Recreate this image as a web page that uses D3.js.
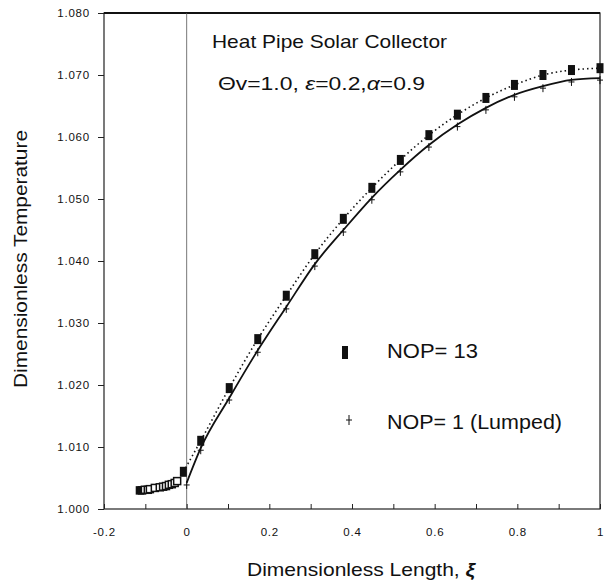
<!DOCTYPE html>
<html lang="en">
    <head>
        <meta charset="utf-8">
        <title>Heat Pipe Solar Collector</title>
        <script type="text/javascript" src="https://cdn.jsdelivr.net/npm/d3@7"></script>
        <style type="text/css">
            body { margin: 0; background: #fff; }
            text { font-family: Arial, "Liberation Sans", sans-serif; fill: #111; }
        </style>
    </head>
    <body>
        <script type="text/javascript">
            var w = 607;
            var h = 584;

            // Data
            var xiNodes  = [-0.008, 0.034, 0.103, 0.172, 0.241, 0.310, 0.379, 0.448, 0.517, 0.586, 0.655, 0.724, 0.793, 0.862, 0.931, 1.0];
            var nop13    = [1.0060, 1.0110, 1.0195, 1.0274, 1.0344, 1.0411, 1.0468, 1.0518, 1.0563, 1.0603, 1.0636, 1.0663, 1.0684, 1.0700, 1.0708, 1.0711];
            var xiLumped = [0, 0.034, 0.103, 0.172, 0.241, 0.310, 0.379, 0.448, 0.517, 0.586, 0.655, 0.724, 0.793, 0.862, 0.931, 1.0];
            var lumped   = [1.0042, 1.0098, 1.0179, 1.0256, 1.0326, 1.0395, 1.0450, 1.0502, 1.0547, 1.0587, 1.0620, 1.0647, 1.0668, 1.0682, 1.0692, 1.0695];
            // evaporator section (open squares)
            var xiEvap   = [-0.113, -0.108, -0.101, -0.094, -0.089, -0.077, -0.065, -0.057, -0.050, -0.043, -0.036, -0.029, -0.023];
            var evapT    = [1.0030, 1.0030, 1.0031, 1.0031, 1.0032, 1.0034, 1.0035, 1.0036, 1.0037, 1.0039, 1.0040, 1.0042, 1.0045];

            var xTicks = [-0.2, -0.1, 0, 0.1, 0.2, 0.3, 0.4, 0.5, 0.6, 0.7, 0.8, 0.9, 1];
            var xLabels = ["-0.2", "0", "0.2", "0.4", "0.6", "0.8", "1"];
            var yTicks = [1.000, 1.010, 1.020, 1.030, 1.040, 1.050, 1.060, 1.070, 1.080];

            var pLeft = 104, pRight = 600, pTop = 13, pBottom = 509;

            var xScale = d3.scaleLinear().domain([-0.2, 1]).range([pLeft, pRight]);
            var yScale = d3.scaleLinear().domain([1.0, 1.08]).range([pBottom, pTop]);

            var svg = d3.select("body")
                .append("svg")
                .attr("width", w)
                .attr("height", h);

            // frame
            svg.append("rect")
                .attr("x", pLeft).attr("y", pTop)
                .attr("width", pRight - pLeft).attr("height", pBottom - pTop)
                .attr("fill", "none").attr("stroke", "#222").attr("stroke-width", 1.2);
            svg.append("line")
                .attr("x1", pLeft).attr("x2", pRight).attr("y1", pTop).attr("y2", pTop)
                .attr("stroke", "#111").attr("stroke-width", 1.8);

            // vertical line at xi = 0
            svg.append("line")
                .attr("x1", xScale(0)).attr("x2", xScale(0))
                .attr("y1", pTop).attr("y2", pBottom)
                .attr("stroke", "#555").attr("stroke-width", 0.8);

            // y axis
            var yAxis = d3.axisLeft(yScale)
                .tickValues(yTicks)
                .tickSize(6)
                .tickPadding(8)
                .tickFormat(d3.format(".3f"));
            var gy = svg.append("g")
                .attr("transform", "translate(" + pLeft + ",0)")
                .call(yAxis);
            gy.select(".domain").remove();
            gy.selectAll("line").attr("stroke", "#222");
            gy.selectAll("text")
                .attr("font-size", "11.5px")
                .attr("letter-spacing", "0.8px")
                .attr("font-family", "Arial, 'Liberation Sans', sans-serif")
                .attr("fill", "#111");

            // x axis: inward ticks every 0.1
            var xAxis = d3.axisBottom(xScale)
                .tickValues(xTicks)
                .tickSize(-5)
                .tickPadding(19)
                .tickFormat(function(d) {
                    var s = String(Math.round(d * 10) / 10);
                    return xLabels.indexOf(s) >= 0 ? s : "";
                });
            var gx = svg.append("g")
                .attr("transform", "translate(0," + pBottom + ")")
                .call(xAxis);
            gx.select(".domain").remove();
            gx.selectAll("line").attr("stroke", "#222");
            gx.selectAll("text")
                .attr("font-size", "11.5px")
                .attr("letter-spacing", "0.8px")
                .attr("font-family", "Arial, 'Liberation Sans', sans-serif")
                .attr("fill", "#111");

            // curves
            var pts13 = xiNodes.map(function(d, i) { return [d, nop13[i]]; });
            var ptsL = xiLumped.map(function(d, i) { return [d, lumped[i]]; });
            var ptsE = xiEvap.map(function(d, i) { return [d, evapT[i]]; });

            var line = d3.line()
                .x(function(d) { return xScale(d[0]); })
                .y(function(d) { return yScale(d[1]); })
                .curve(d3.curveMonotoneX);

            svg.append("path")
                .attr("d", line(pts13))
                .attr("fill", "none")
                .attr("stroke", "#111")
                .attr("stroke-width", 1.6)
                .attr("stroke-dasharray", "1.5,3");

            svg.append("path")
                .attr("d", line(ptsL))
                .attr("fill", "none")
                .attr("stroke", "#111")
                .attr("stroke-width", 1.8);

            // open squares in evaporator (leftmost ones overlap into a dark blob)
            svg.selectAll("rect.evap")
                .data(ptsE)
                .enter()
                .append("rect")
                .attr("class", "evap")
                .attr("x", function(d) { return xScale(d[0]) - 3.5; })
                .attr("y", function(d) { return yScale(d[1]) - 3.5; })
                .attr("width", 7).attr("height", 7)
                .attr("fill", function(d, i) { return i < 2 ? "#111" : "#fff"; })
                .attr("stroke", "#111")
                .attr("stroke-width", 1.5);

            // NOP=13 filled squares
            svg.selectAll("rect.n13")
                .data(pts13)
                .enter()
                .append("rect")
                .attr("class", "n13")
                .attr("x", function(d) { return xScale(d[0]) - 3.5; })
                .attr("y", function(d) { return yScale(d[1]) - 5; })
                .attr("width", 7).attr("height", 10)
                .attr("fill", "#111");

            // lumped plus marks
            var plus = svg.selectAll("g.plus")
                .data(ptsL)
                .enter()
                .append("g")
                .attr("class", "plus")
                .attr("transform", function(d) {
                    return "translate(" + xScale(d[0]) + "," + (yScale(d[1]) + 2) + ")";
                });
            plus.append("line").attr("x1", -3).attr("x2", 3).attr("y1", 0).attr("y2", 0)
                .attr("stroke", "#111").attr("stroke-width", 1);
            plus.append("line").attr("x1", 0).attr("x2", 0).attr("y1", -4).attr("y2", 4)
                .attr("stroke", "#111").attr("stroke-width", 1);

            // legend
            svg.append("rect")
                .attr("x", 342).attr("y", 346).attr("width", 6).attr("height", 13)
                .attr("fill", "#111");
            svg.append("text")
                .attr("x", 387).attr("y", 358)
                .attr("font-size", "20px")
                .attr("textLength", 91).attr("lengthAdjust", "spacingAndGlyphs")
                .text("NOP= 13");
            var lp = svg.append("g").attr("transform", "translate(349,420)");
            lp.append("line").attr("x1", -3).attr("x2", 3).attr("y1", 0).attr("y2", 0)
                .attr("stroke", "#111").attr("stroke-width", 1);
            lp.append("line").attr("x1", 0).attr("x2", 0).attr("y1", -5).attr("y2", 5)
                .attr("stroke", "#111").attr("stroke-width", 1);
            svg.append("text")
                .attr("x", 387).attr("y", 429)
                .attr("font-size", "20px")
                .attr("textLength", 175).attr("lengthAdjust", "spacingAndGlyphs")
                .text("NOP= 1 (Lumped)");

            // annotations
            svg.append("text")
                .attr("x", 212).attr("y", 48)
                .attr("font-size", "19px")
                .attr("textLength", 235).attr("lengthAdjust", "spacingAndGlyphs")
                .text("Heat Pipe Solar Collector");
            svg.append("text")
                .attr("x", 218).attr("y", 90)
                .attr("font-size", "19px")
                .attr("textLength", 207).attr("lengthAdjust", "spacingAndGlyphs")
                .html("\u0398v=1.0, <tspan font-style='italic'>\u03B5</tspan>=0.2,<tspan font-style='italic'>\u03B1</tspan>=0.9");

            // axis titles
            svg.append("text")
                .attr("transform", "translate(27," + 259 + ") rotate(-90)")
                .attr("text-anchor", "middle")
                .attr("font-size", "19px")
                .attr("textLength", 258).attr("lengthAdjust", "spacingAndGlyphs")
                .text("Dimensionless Temperature");
            svg.append("text")
                .attr("x", 361).attr("y", 576)
                .attr("text-anchor", "middle")
                .attr("font-size", "19px")
                .attr("textLength", 228).attr("lengthAdjust", "spacingAndGlyphs")
                .html("Dimensionless Length, <tspan font-style='italic' font-weight='bold'>\u03BE</tspan>");
        </script>
    </body>
</html>
